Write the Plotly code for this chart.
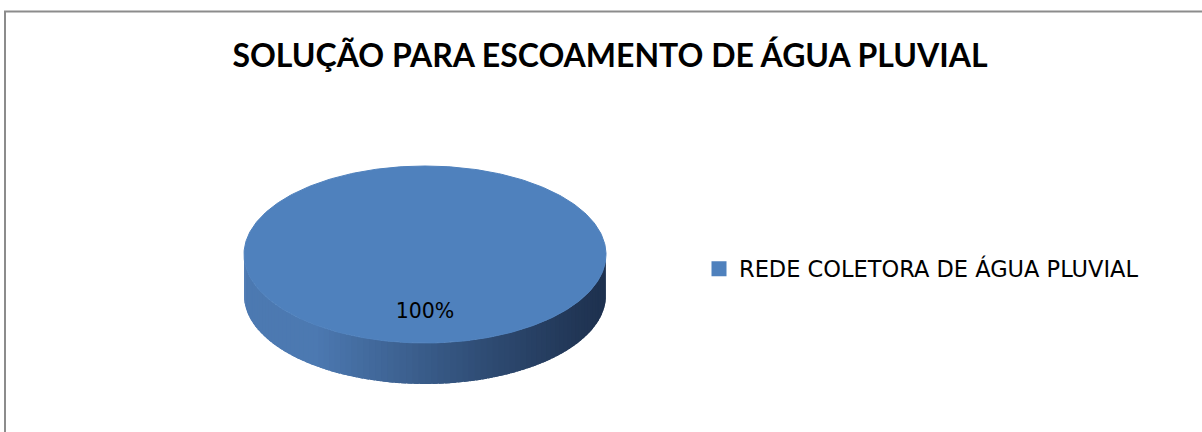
import numpy as np
import plotly.graph_objects as go

# ---- data ----
categories = ["REDE COLETORA DE ÁGUA PLUVIAL"]
values = [100]
title_text = "SOLUÇÃO PARA ESCOAMENTO DE ÁGUA PLUVIAL"

# ---- style / layout constants ----
W, H = 1202, 432
CX, CY = 425, 254.5      # centre of top face (px)
RX, RY = 181, 88.5       # radii of top face
DEPTH = 41               # thickness of the 3D pie
TOP_COLOR = "#4F81BD"
SIDE_LIGHT = np.array([0x4C, 0x79, 0xB1])
SIDE_DARK = np.array([0x1E, 0x31, 0x4F])
FONT_B = "Lato, 'Open Sans', sans-serif"
FONT = "'DejaVu Sans', sans-serif"

total = sum(values)
fig = go.Figure()

start = -np.pi / 2  # start at 12 o'clock, clockwise (screen y down)
for cat, v in zip(categories, values):
    sweep = 2 * np.pi * v / total
    a0, a1 = start, start + sweep
    lo, hi = max(a0, 0.0), min(a1, np.pi)
    if hi > lo:
        n = 90
        edges = np.linspace(lo, hi, n + 1)
        step = edges[1] - edges[0]
        for i in range(n):
            t = np.linspace(edges[i], min(edges[i + 1] + 0.8 * step, hi), 5)
            xs_top = CX + RX * np.cos(t)
            ys_top = CY + RY * np.sin(t)
            xs = np.concatenate([xs_top, xs_top[::-1]])
            ys = np.concatenate([ys_top, ys_top[::-1] + DEPTH])
            xm = np.cos((edges[i] + edges[i + 1]) / 2)  # 1 right .. -1 left
            f = np.clip((1 - xm) / 2, 0, 1)
            f = np.clip(f / 0.8, 0, 1) ** 1.1
            c = SIDE_DARK + (SIDE_LIGHT - SIDE_DARK) * f
            col = "rgb(%d,%d,%d)" % tuple(c.astype(int))
            fig.add_trace(go.Scatter(x=xs, y=ys, mode="lines", fill="toself",
                                     fillcolor=col, line=dict(color=col, width=0),
                                     hoverinfo="skip", showlegend=False))
    th = np.linspace(a0, a1, 361)
    xs = CX + RX * np.cos(th)
    ys = CY + RY * np.sin(th)
    if sweep < 2 * np.pi - 1e-9:
        xs = np.concatenate([[CX], xs, [CX]])
        ys = np.concatenate([[CY], ys, [CY]])
    fig.add_trace(go.Scatter(x=xs, y=ys, mode="lines", fill="toself",
                             fillcolor=TOP_COLOR, line=dict(color=TOP_COLOR, width=1),
                             hoverinfo="skip", showlegend=False))
    mid = start + sweep / 2
    pct = v / total * 100
    fig.add_trace(go.Scatter(x=[CX + 0.66 * RX * np.cos(mid)],
                             y=[CY + 0.66 * RY * np.sin(mid)],
                             mode="text", text=["%d%%" % round(pct)],
                             textfont=dict(family=FONT, size=20.5, color="#000000"),
                             hoverinfo="skip", showlegend=False))
    fig.add_trace(go.Scatter(x=[None], y=[None], mode="markers", name=cat,
                             marker=dict(symbol="square", size=15, color=TOP_COLOR),
                             showlegend=True))
    start += sweep

fig.update_layout(
    width=W, height=H,
    margin=dict(l=0, r=0, t=0, b=0),
    paper_bgcolor="white", plot_bgcolor="white",
    xaxis=dict(range=[0, W], visible=False, fixedrange=True),
    yaxis=dict(range=[H, 0], visible=False, fixedrange=True),
    title=dict(text="<b>%s</b>" % title_text, x=610 / W, xanchor="center",
               y=1 - 56 / H, yanchor="middle",
               font=dict(family=FONT_B, size=32, color="#000000")),
    legend=dict(x=699 / W, y=1 - 269 / H, xanchor="left", yanchor="middle",
                font=dict(family=FONT, size=22.5, color="#000000"),
                bgcolor="rgba(0,0,0,0)", itemclick=False),
    shapes=[dict(type="rect", xref="paper", yref="paper",
                 x0=5 / W, x1=1.05, y0=-0.1, y1=1 - 11.5 / H,
                 line=dict(color="#8C8C8C", width=2), layer="above")],
    showlegend=True,
)

fig.write_html("out.html", config={"displayModeBar": False},
               post_script="document.body.style.margin='0';document.body.style.overflow='hidden';")
